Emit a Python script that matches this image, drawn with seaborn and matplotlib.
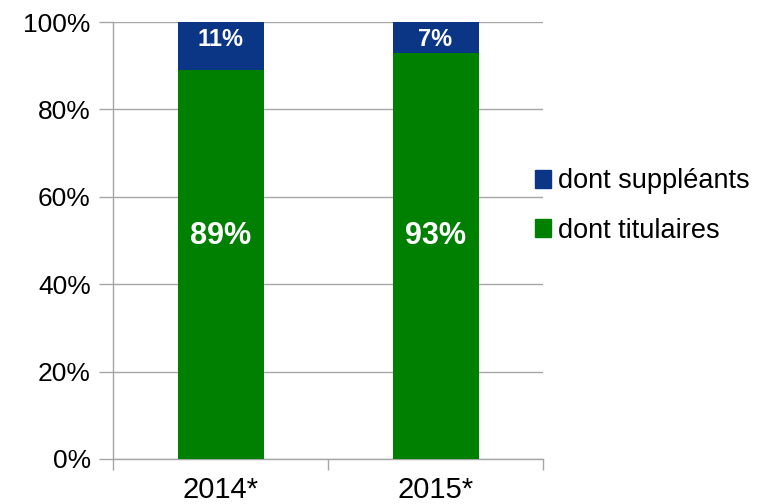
import matplotlib
matplotlib.use("Agg")
import matplotlib.pyplot as plt
import seaborn as sns
import pandas as pd
from matplotlib.patches import Patch

years = ["2014*", "2015*"]
titulaires = [89, 93]
suppleants = [11, 7]

sns.set_theme(style="white")
plt.rcParams["font.family"] = ["Liberation Sans", "DejaVu Sans"]

BLUE = "#0B3685"
GREEN = "#008000"
GRID = "#A6A6A6"

df = pd.DataFrame({
    "annee": years,
    "titulaires": titulaires,
    "total": [t + s for t, s in zip(titulaires, suppleants)],
})

fig = plt.figure(figsize=(7.6, 5.04), dpi=100)
ax = fig.add_axes([113 / 760, 1 - 459 / 504, 430 / 760, 437 / 504])

sns.barplot(data=df, x="annee", y="total", color=BLUE, width=0.4,
            saturation=1, linewidth=0, ax=ax, zorder=3)
sns.barplot(data=df, x="annee", y="titulaires", color=GREEN, width=0.4,
            saturation=1, linewidth=0, ax=ax, zorder=3)

ax.set_xlim(-0.5, 1.5)
ax.set_ylim(0, 100)
ax.set_yticks(range(0, 101, 20))
ax.set_yticklabels([f"{v}%" for v in range(0, 101, 20)], fontsize=19, color="#000000")
ax.yaxis.grid(True, color=GRID, linewidth=1, zorder=0)
ax.set_axisbelow(True)
ax.tick_params(axis="y", length=10, width=1, color=GRID, pad=6, left=True)
ax.set_xticks([0, 1])
ax.set_xticklabels(years, fontsize=21, color="#000000")
ax.set_xticks([-0.5, 0.5, 1.5], minor=True)
ax.tick_params(axis="x", which="major", length=0, pad=12)
ax.tick_params(axis="x", which="minor", length=8, width=1, color=GRID, bottom=True)
ax.set_xlabel("")
ax.set_ylabel("")

for side in ["top", "right"]:
    ax.spines[side].set_visible(False)
for side in ["left", "bottom"]:
    ax.spines[side].set_color(GRID)
    ax.spines[side].set_linewidth(1)

# value labels: main share mid-height, small share near the top of each bar
for i, (t, s) in enumerate(zip(titulaires, suppleants)):
    ax.text(i, 51, f"{t}%", ha="center", va="center", color="white",
            fontsize=22, fontweight="bold", zorder=5)
    ax.text(i, 96, f"{s}%", ha="center", va="center", color="white",
            fontsize=17, fontweight="bold", zorder=5)

handles = [Patch(facecolor=BLUE, edgecolor=BLUE, label="dont suppléants"),
           Patch(facecolor=GREEN, edgecolor=GREEN, label="dont titulaires")]
fig.legend(handles=handles, loc="center left", bbox_to_anchor=(535 / 760, 1 - 206 / 504),
           frameon=False, fontsize=19.5, handlelength=0.6, handleheight=0.6,
           handletextpad=0.25, labelspacing=0.85, borderaxespad=0, borderpad=0,
           labelcolor="#000000")

fig.savefig("out.png", dpi=100, facecolor="white")
